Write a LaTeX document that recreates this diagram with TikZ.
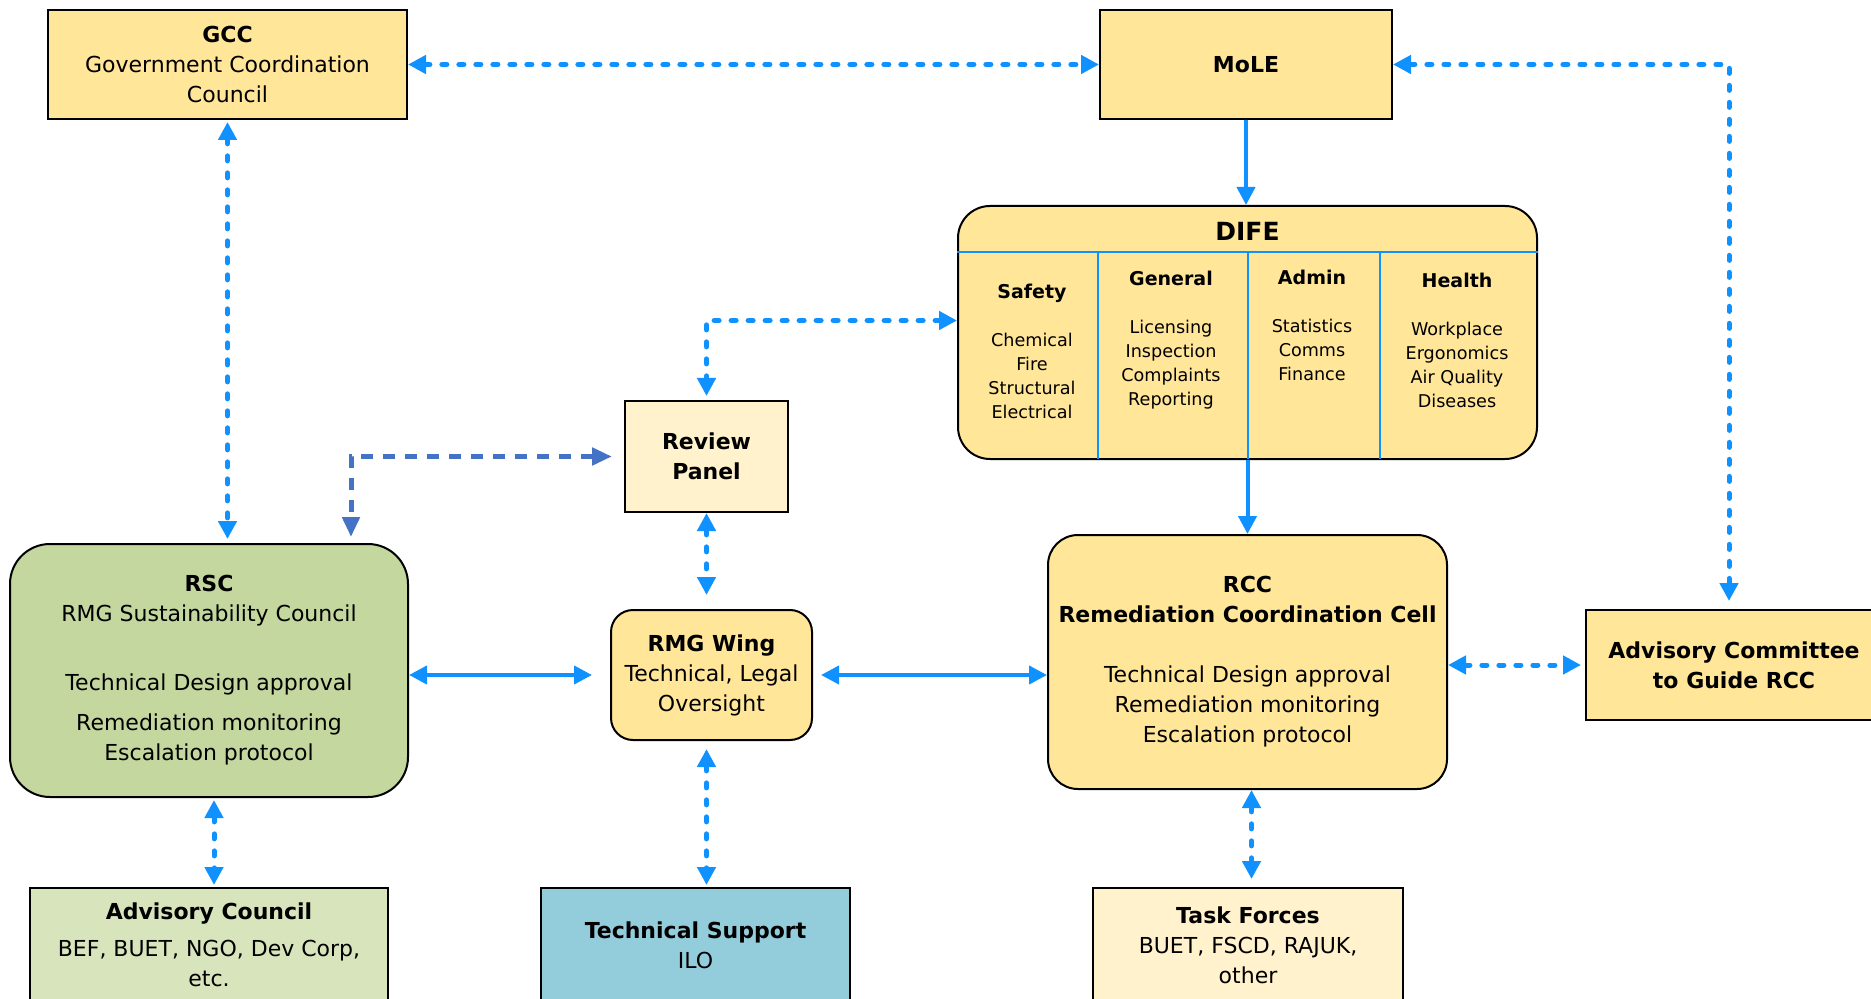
\documentclass[tikz,border=0pt]{standalone}
\usepackage{fontspec}
\setmainfont{DejaVu Sans}
\usetikzlibrary{arrows.meta}
\usetikzlibrary{positioning}
\definecolor{boxyellow}{HTML}{FFE699}
\definecolor{boxcream}{HTML}{FFF2CC}
\definecolor{rscgreen}{HTML}{C4D79E}
\definecolor{acgreen}{HTML}{D8E4BC}
\definecolor{tsblue}{HTML}{93CDDC}
\definecolor{lineblue}{HTML}{0F91FF}
\definecolor{panelblue}{HTML}{4472C4}
\newcommand{\colhead}[1]{{\fontsize{9.5}{12}\selectfont\bfseries #1}}

\begin{document}
\begin{tikzpicture}[x=0.5pt,y=-0.5pt,
	>={Triangle[length=9pt,width=9pt]},
	box/.style={draw=black,line width=1pt,align=center,inner sep=0pt,
		font=\fontsize{11}{15}\selectfont},
	colbox/.style={align=center,inner sep=0pt,font=\fontsize{8.8}{12}\selectfont},
	divline/.style={draw=lineblue,line width=1pt},
	solidlink/.style={draw=lineblue,line width=2pt},
	dashlink/.style={draw=lineblue,line width=2.5pt,line cap=round,dash pattern=on 2.5pt off 6pt},
	panellink/.style={draw=panelblue,line width=2.5pt,dash pattern=on 6pt off 5pt,
		>={Triangle[length=10pt,width=8.5pt]}}]
	\useasboundingbox (0,0) rectangle (1871,999);
	% top row
	\node[box,fill=boxyellow,minimum width=179.5pt,minimum height=54.5pt] (gcc) at (227.5,64.5)
		{\textbf{GCC}\\Government Coordination\\Council};
	\node[box,fill=boxyellow,minimum width=146pt,minimum height=54.5pt] (mole) at (1246,64.5)
		{\textbf{MoLE}};
	% DIFE and its four sections
	\node[box,fill=boxyellow,rounded corners=16pt,minimum width=289.5pt,minimum height=126.5pt] (dife) at (1247.5,332.5) {};
	\node[font=\fontsize{12.5}{15}\selectfont\bfseries] (difetitle) at (1247.5,231) {DIFE};
	\coordinate (hdr) at (0,252);
	\draw[divline] (dife.west |- hdr) -- (dife.east |- hdr);
	\draw[divline] (1098,252) -- (1098,459);
	\draw[divline] (1248,252) -- (1248,459);
	\draw[divline] (1380,252) -- (1380,459);
	\node[colbox] (safety) at (1032,351) {\colhead{Safety}\\[12pt]Chemical\\Fire\\Structural\\Electrical};
	\node[colbox] (general) at (1171,340) {\colhead{General}\\[12pt]Licensing\\Inspection\\Complaints\\Reporting};
	\node[colbox] (admin) at (1312,325) {\colhead{Admin}\\[12pt]Statistics\\Comms\\Finance};
	\node[colbox] (health) at (1457,340) {\colhead{Health}\\[12pt]Workplace\\Ergonomics\\Air Quality\\Diseases};
	% middle row
	\node[box,fill=boxcream,minimum width=81.5pt,minimum height=55.5pt] (review) at (706.5,456.5)
		{\textbf{Review}\\\textbf{Panel}};
	\node[box,fill=rscgreen,rounded corners=20pt,minimum width=199pt,minimum height=126.5pt] (rsc) at (209,670.5)
		{\textbf{RSC}\\RMG Sustainability Council\\[19.5pt]Technical Design approval\\[5pt]Remediation monitoring\\Escalation protocol};
	\node[box,fill=boxyellow,rounded corners=11pt,minimum width=100.5pt,minimum height=65pt] (wing) at (711.5,675)
		{\textbf{RMG Wing}\\Technical, Legal\\Oversight};
	\node[box,fill=boxyellow,rounded corners=15pt,minimum width=199.5pt,minimum height=127pt] (rcc) at (1247.5,662)
		{\textbf{RCC}\\\textbf{Remediation Coordination Cell}\\[15pt]Technical Design approval\\Remediation monitoring\\Escalation protocol};
	\node[box,fill=boxyellow,minimum width=148pt,minimum height=55pt] (advcomm) at (1734,665)
		{\textbf{Advisory Committee}\\\textbf{to Guide RCC}};
	% bottom row
	\node[box,fill=acgreen,minimum width=179pt,minimum height=57pt] (advcouncil) at (209,945)
		{\textbf{Advisory Council}\\[3.5pt]BEF, BUET, NGO, Dev Corp,\\etc.};
	\node[box,fill=tsblue,minimum width=154.5pt,minimum height=57pt] (techsup) at (695.5,945)
		{\textbf{Technical Support}\\ILO};
	\node[box,fill=boxcream,minimum width=155pt,minimum height=57pt] (taskforce) at (1248,945)
		{\textbf{Task Forces}\\BUET, FSCD, RAJUK,\\other};
	% connectors
	\draw[dashlink,<->] (gcc.east) -- (mole.west);
	\draw[solidlink,->] (mole.south) -- (mole.south |- dife.north);
	\draw[dashlink,<->,shorten >=4pt] (mole.east) -| ([xshift=-2.5pt]advcomm.north);
	\draw[dashlink,<->,shorten <=1pt,shorten >=2pt] (gcc.south) -- (gcc.south |- rsc.north);
	\draw[dashlink,<->,shorten >=2pt] ([yshift=6pt]dife.west) -| (review.north);
	\draw[panellink,<->,shorten <=6pt,shorten >=3pt] (review.west) -| ([xshift=71pt]rsc.north);
	\draw[dashlink,<->,shorten >=7pt] (review.south) -- (review.south |- wing.north);
	\draw[solidlink,<->,shorten >=9pt] (wing.west -| rsc.east) -- (wing.west);
	\draw[solidlink,<->,shorten <=4pt] (wing.east) -- (wing.east -| rcc.west);
	\draw[solidlink,->] (dife.south) -- (rcc.north);
	\draw[dashlink,<->,shorten >=2pt] (advcomm.west -| rcc.east) -- (advcomm.west);
	\draw[dashlink,<->,shorten <=1pt,shorten >=1pt] ([xshift=2.5pt]rsc.south) -- ([xshift=2.5pt]advcouncil.north);
	\draw[dashlink,<->,shorten <=4pt,shorten >=1pt] (review.south |- wing.south) -- (review.south |- techsup.north);
	\draw[dashlink,<->,shorten >=4pt] ([xshift=2pt]rcc.south) -- ([xshift=2pt]rcc.south |- taskforce.north);
\end{tikzpicture}
\end{document}
